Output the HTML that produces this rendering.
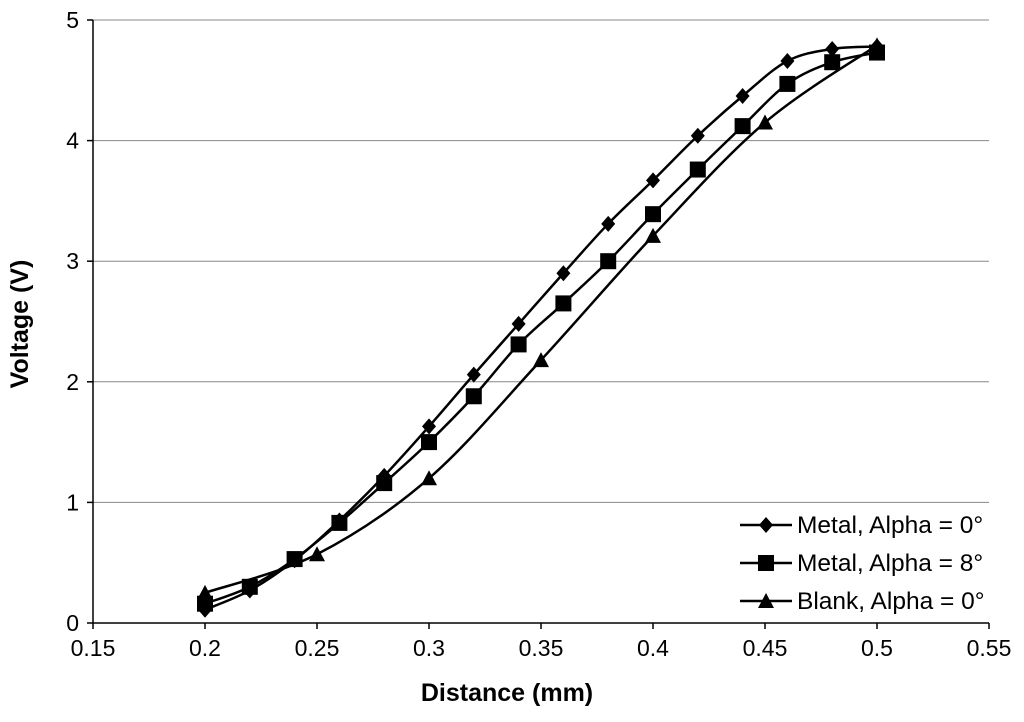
<!DOCTYPE html>
<html><head><meta charset="utf-8"><style>
html,body{margin:0;padding:0;background:#fff;}
svg{display:block;font-family:"Liberation Sans",Arial,sans-serif;}
</style></head><body>
<svg id="chart" width="1024" height="722" viewBox="0 0 1024 722">
<g id="grid"></g>
<g id="axes"></g>
<g id="series"></g>
<text x="507" y="701" text-anchor="middle" font-size="25" font-weight="bold">Distance (mm)</text>
<text transform="translate(28,324) rotate(-90)" text-anchor="middle" font-size="25" font-weight="bold">Voltage (V)</text>
<g id="legend"></g>
</svg>
<script>
const xTicks=[0.15,0.2,0.25,0.3,0.35,0.4,0.45,0.5,0.55];
const xTickLabels=["0.15","0.2","0.25","0.3","0.35","0.4","0.45","0.5","0.55"];
const yTicks=[0,1,2,3,4,5];
const metal0X=[0.2,0.22,0.24,0.26,0.28,0.3,0.32,0.34,0.36,0.38,0.4,0.42,0.44,0.46,0.48,0.5];
const metal0Y=[0.11,0.27,0.52,0.85,1.22,1.63,2.06,2.48,2.90,3.31,3.67,4.04,4.37,4.66,4.76,4.78];
const metal8X=[0.2,0.22,0.24,0.26,0.28,0.3,0.32,0.34,0.36,0.38,0.4,0.42,0.44,0.46,0.48,0.5];
const metal8Y=[0.16,0.30,0.53,0.83,1.16,1.50,1.88,2.31,2.65,3.00,3.39,3.76,4.12,4.47,4.65,4.73];
const blankX=[0.2,0.25,0.3,0.35,0.4,0.45,0.5];
const blankY=[0.25,0.57,1.20,2.18,3.21,4.15,4.79];
const seriesNames=["Metal, Alpha = 0°","Metal, Alpha = 8°","Blank, Alpha = 0°"];

const NS="http://www.w3.org/2000/svg";
const X0=93,X1=989,Y0=623,Y1=20;
const xs=v=>X0+(v-0.15)/(0.55-0.15)*(X1-X0);
const ys=v=>Y0-v/5*(Y0-Y1);
function mk(tag,attrs,parent){const e=document.createElementNS(NS,tag);for(const k in attrs)e.setAttribute(k,attrs[k]);parent.appendChild(e);return e;}
const grid=document.getElementById('grid'),axes=document.getElementById('axes'),ser=document.getElementById('series'),leg=document.getElementById('legend');
yTicks.forEach(t=>{
  if(t>0){const l=mk('line',{x1:X0,x2:X1,y1:ys(t),y2:ys(t),stroke:'#888','stroke-width':1},grid);
  
  }
  const tk=mk('line',{x1:X0-6,x2:X0,y1:ys(t),y2:ys(t),stroke:'#000','stroke-width':1.5},axes);
  
  
  const tx=mk('text',{x:X0-14,y:ys(t)+8,'text-anchor':'end','font-size':23},axes);tx.textContent=t;
  
  
});
xTicks.forEach((t,i)=>{
  const tk=mk('line',{x1:xs(t),x2:xs(t),y1:Y0,y2:Y0+6,stroke:'#000','stroke-width':1.5},axes);
  
  
  const tx=mk('text',{x:xs(t),y:Y0+33,'text-anchor':'middle','font-size':23},axes);tx.textContent=xTickLabels[i];
  
  
});
const ya=mk('line',{x1:X0,x2:X0,y1:Y1,y2:Y0,stroke:'#000','stroke-width':1.5},axes);


const xa=mk('line',{x1:X0,x2:X1,y1:Y0,y2:Y0,stroke:'#000','stroke-width':1.5},axes);



function smooth(px,py){
  let d='M'+px[0]+','+py[0];
  for(let i=0;i<px.length-1;i++){
    const p0=i>0?i-1:i,p3=i+2<px.length?i+2:i+1;
    const c1x=px[i]+(px[i+1]-px[p0])/6,c1y=py[i]+(py[i+1]-py[p0])/6;
    const c2x=px[i+1]-(px[p3]-px[i])/6,c2y=py[i+1]-(py[p3]-py[i])/6;
    d+=' C'+c1x+','+c1y+' '+c2x+','+c2y+' '+px[i+1]+','+py[i+1];
  }
  return d;
}
function marker(type,cx,cy,parent){
  let e;
  if(type==0) e=mk('polygon',{points:`${cx},${cy-8} ${cx+7},${cy} ${cx},${cy+8} ${cx-7},${cy}`,fill:'#000'},parent);
  else if(type==1) e=mk('rect',{x:cx-8,y:cy-8,width:16,height:16,fill:'#000'},parent);
  else e=mk('polygon',{points:`${cx},${cy-8} ${cx+8},${cy+7} ${cx-8},${cy+7}`,fill:'#000'},parent);
  return e;
}
const allX=[metal0X,metal8X,blankX],allY=[metal0Y,metal8Y,blankY];
const sNames=['metal-alpha-0','metal-alpha-8','blank-alpha-0'];
allX.forEach((xd,s)=>{
  const g=mk('g',{},ser);
  
  
  const p=mk('path',{d:smooth(xd.map(xs),allY[s].map(ys)),fill:'none',stroke:'#000','stroke-width':2.5},g);
  
  
  xd.forEach((v,i)=>{const m=marker(s,xs(v),ys(allY[s][i]),g);
    
    });
});
seriesNames.forEach((n,i)=>{
  const y=525+i*38;
  const g=mk('g',{},leg);
  
  
  mk('line',{x1:740,x2:792,y1:y,y2:y,stroke:'#000','stroke-width':2.5},g);
  marker(i,766,y,g);
  const t=mk('text',{x:797,y:y+8,'font-size':24.5},g);t.textContent=n;
});
</script>
</body></html>
